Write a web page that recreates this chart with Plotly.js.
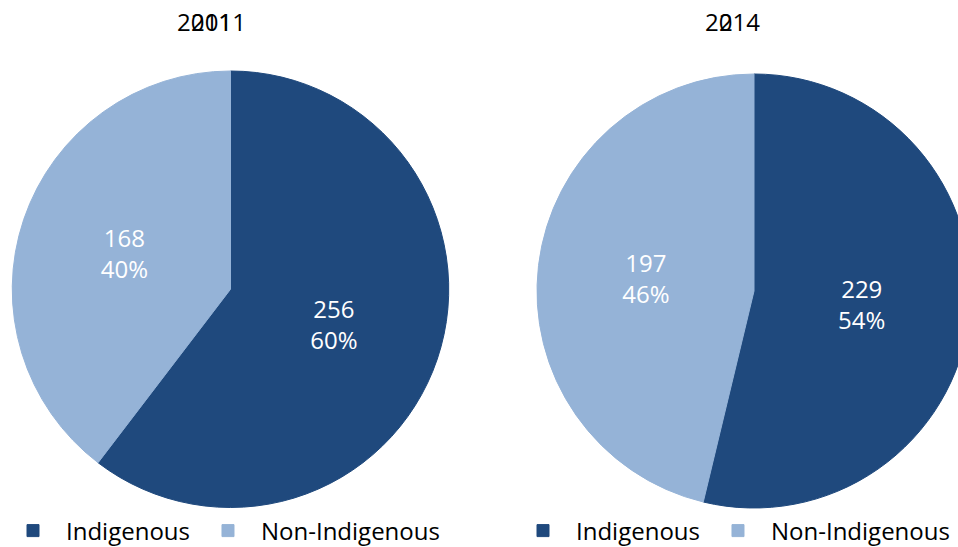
<!DOCTYPE html>
<html><head><meta charset="utf-8">
<script src="https://cdn.plot.ly/plotly-3.0.1.min.js"></script>
<style>html,body{margin:0;padding:0;overflow:hidden;background:#fff}#c{width:980px;height:547px}</style>
</head><body><div id="c"></div>
<script>
const categories = ["Indigenous", "Non-Indigenous"];
const values2011 = [256, 168];
const values2014 = [229, 197];
const titleA = "2011";
const titleB = "2014";
const colors = ["#1F497D", "#95B3D7"];

const W = 980, H = 547;
const font = "'Open Sans', sans-serif";
function pie(vals, dom, leg, grp) {
  return {
    type: "pie", labels: categories, values: vals, sort: false,
    direction: "clockwise", rotation: 0,
    marker: {colors: colors, line: {width: 1, color: colors}},
    texttemplate: "%{value}<br>%{percent:.0%}", textposition: "inside",
    insidetextorientation: "horizontal",
    insidetextfont: {family: font, size: 24, color: "#ffffff"},
    domain: dom, legend: leg, legendgroup: grp, hoverinfo: "label+value+percent"
  };
}
const data = [
  pie(values2011, {x: [12/W, 449/W], y: [39.5/H, 476/H]}, "legend", "a"),
  pie(values2014, {x: [537/W, 971/W], y: [39/H, 473/H]}, "legend2", "b")
];
function leg(x) {
  return {orientation: "h", x: x, xanchor: "left", y: 16/H, yanchor: "middle",
    font: {family: font, size: 24, color: "#000"}, bgcolor: "rgba(0,0,0,0)",
    itemwidth: 56, traceorder: "normal"};
}
function ann(t, x) {
  return {text: t, xref: "paper", yref: "paper", x: x/W, xanchor: "left",
    y: (H-22)/H, yanchor: "middle", showarrow: false,
    font: {family: font, size: 24, color: "#000"}};
}
const layout = {
  width: W, height: H, margin: {l: 0, r: 0, t: 0, b: 0, autoexpand: false},
  paper_bgcolor: "#fff", showlegend: true,
  legend: leg(0.0), legend2: leg(510/W),
  annotations: [ann(titleA, 175), ann(titleA, 189), ann(titleB, 703), ann(titleB.slice(0,1), 717)]
};
Plotly.newPlot("c", data, layout, {displayModeBar: false, staticPlot: true});
</script></body></html>
